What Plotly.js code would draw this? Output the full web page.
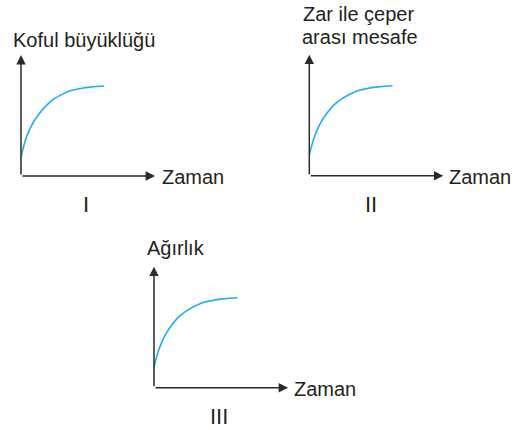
<!DOCTYPE html>
<html>
<head>
<meta charset="utf-8">
<script src="https://cdn.plot.ly/plotly-3.0.1.min.js"></script>
<style>
  html, body { margin: 0; padding: 0; background: #ffffff; }
  #chart { width: 519px; height: 430px; }
</style>
</head>
<body>
<div id="chart"></div>
<script>
// ---- data ----
const zaman = [0, 0.5, 1, 1.5, 2, 3, 4, 5, 6, 7, 8, 9, 10];
const kofulBuyuklugu = [2.1, 3.9, 5.1, 6.0, 6.7, 7.8, 8.6, 9.1, 9.5, 9.7, 9.85, 9.95, 10];
const zarCeperMesafe = [2.3, 4.0, 5.2, 6.1, 6.8, 7.9, 8.6, 9.1, 9.5, 9.7, 9.85, 9.95, 10];
const agirlik = [2.3, 4.0, 5.2, 6.1, 6.8, 7.9, 8.6, 9.1, 9.5, 9.7, 9.85, 9.95, 10];
const yLabels = ["Koful büyüklüğü", "Zar ile çeper", "arası mesafe", "Ağırlık"];
const xLabel = "Zaman";
const panelLabels = ["I", "II", "III"];

// ---- layout helpers ----
const W = 519, H = 430;
const XMAX = 16.1, YMAX = 13.45;
const PW = 134, PH = 121;
const px = v => v / W;
const py = v => 1 - v / H;
const origins = [[21, 176], [309.3, 175.7], [154, 387.7]];
const curveColor = '#1eb0ea';
const axisColor = '#2a2a2a';
const font = {family: '"Liberation Sans", Arial, sans-serif', size: 20, color: '#231f20'};

const series = [kofulBuyuklugu, zarCeperMesafe, agirlik];
const traces = series.map((s, i) => ({
  x: zaman, y: s,
  xaxis: i === 0 ? 'x' : 'x' + (i + 1),
  yaxis: i === 0 ? 'y' : 'y' + (i + 1),
  type: 'scatter', mode: 'lines',
  line: {color: curveColor, width: 1.6, shape: 'spline', smoothing: 0.8},
  cliponaxis: false, hoverinfo: 'skip'
}));

const layout = {
  width: W, height: H,
  margin: {l: 0, r: 0, t: 0, b: 0},
  paper_bgcolor: '#ffffff', plot_bgcolor: '#ffffff',
  showlegend: false, hovermode: false,
  font: font,
  annotations: [], shapes: []
};

origins.forEach((o, i) => {
  const sfx = i === 0 ? '' : String(i + 1);
  const ax = {
    showgrid: false, zeroline: false, showticklabels: false, ticks: '',
    showline: false, fixedrange: true
  };
  layout['xaxis' + sfx] = Object.assign({}, ax, {
    domain: [px(o[0]), px(o[0] + PW)], range: [0, XMAX], anchor: 'y' + sfx
  });
  layout['yaxis' + sfx] = Object.assign({}, ax, {
    domain: [py(o[1]), py(o[1] - PH)], range: [0, YMAX], anchor: 'x' + sfx
  });
  const xr = 'x' + sfx, yr = 'y' + sfx;
  // x axis arrow
  layout.annotations.push({
    xref: xr, yref: yr, axref: xr, ayref: yr,
    x: XMAX, y: 0, ax: 0, ay: 0, text: '', showarrow: true,
    arrowhead: 2, arrowsize: 1.25, arrowwidth: 1.5, arrowcolor: axisColor, standoff: 0
  });
  // y axis arrow
  layout.annotations.push({
    xref: xr, yref: yr, axref: xr, ayref: yr,
    x: 0, y: YMAX, ax: 0, ay: 0, text: '', showarrow: true,
    arrowhead: 2, arrowsize: 1.25, arrowwidth: 1.5, arrowcolor: axisColor, standoff: 0
  });
});

function label(text, x, y, xanchor, size) {
  layout.annotations.push({
    xref: 'paper', yref: 'paper', x: px(x), y: py(y),
    xanchor: xanchor, yanchor: 'middle', showarrow: false, text: text,
    font: Object.assign({}, font, size ? {size: size} : {})
  });
}
label(yLabels[0], 10.8, 39.5, 'left');
label(yLabels[1], 300.8, 13.7, 'left');
label(yLabels[2], 300.2, 37.3, 'left');
label(yLabels[3], 145, 248, 'left');
label(xLabel, 159.5, 177.3, 'left');
label(xLabel, 446.5, 177.3, 'left');
label(xLabel, 291.5, 388.7, 'left');
label(panelLabels[0], 86, 204.8, 'center', 22);
label(panelLabels[1], 371, 204.2, 'center', 22);
label(panelLabels[2], 218.7, 416.5, 'center', 22);

Plotly.newPlot('chart', traces, layout, {displayModeBar: false, staticPlot: true});
</script>
</body>
</html>
